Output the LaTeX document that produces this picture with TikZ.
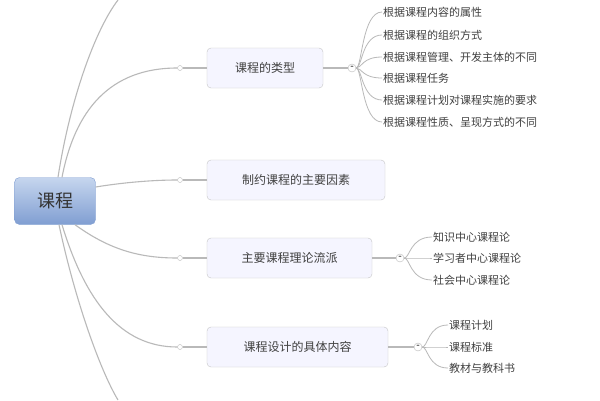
\documentclass[tikz,border=0pt]{standalone}
\usepackage{fontspec}
\setmainfont{Noto Sans CJK SC}
\definecolor{rootA}{RGB}{198,214,238}
\definecolor{rootB}{RGB}{128,158,210}
\begin{document}
\begin{tikzpicture}[x=1pt,y=-1pt,
  ln/.style={draw=gray!55,line width=1.1pt},
  br/.style={draw=gray!45,rounded corners=4pt,fill=blue!4,minimum height=40pt,font=\fontsize{12}{14}\selectfont,text=black!75,inner xsep=10pt},
  lf/.style={anchor=west,font=\fontsize{11}{13}\selectfont,text=black!75,inner sep=1pt},
  dot/.style={circle,draw=gray!55,fill=white,inner sep=0pt,minimum size=5pt},
  mn/.style={circle,draw=gray!55,fill=white,inner sep=0pt,minimum size=8pt,font=\tiny,label={[inner sep=0pt]center:-}}]
\useasboundingbox (0,0) rectangle (600,400);
\fill[white] (0,0) rectangle (600,400);
\coordinate (topend) at (118,0);
\coordinate (botend) at (118,400);
\node[draw=rootB,rounded corners=5pt,minimum width=81pt,minimum height=47pt,
  top color=rootA,bottom color=rootB,font=\fontsize{18}{20}\selectfont,text=black!80] (root) at (55,201) {课程};
\draw[ln] (root.north)++(3,0) .. controls (70,100) and (95,30) .. (topend);
\node[br,minimum width=116pt] (b1) at (265,68) {课程的类型};
\node[br,minimum width=178pt] (b2) at (296,180) {制约课程的主要因素};
\node[br,minimum width=165pt] (b3) at (289.5,258) {主要课程理论流派};
\node[br,minimum width=181pt] (b4) at (297.5,347) {课程设计的具体内容};
\node[dot] (d1) at (180,68) {};
\node[dot] (d2) at (180,180) {};
\node[dot] (d3) at (180,258) {};
\node[dot] (d4) at (180,347) {};
\draw[ln] (root.north)++(7,0) .. controls (75,110) and (110,68) .. (d1.west);
\draw[ln] (root.east)++(0,-14) .. controls (120,183) and (150,180) .. (d2.west);
\draw[ln] (root.south)++(20,0) .. controls (110,250) and (140,258) .. (d3.west);
\draw[ln] (root.south)++(7,0) .. controls (85,300) and (120,347) .. (d4.west);
\draw[ln] (root.south)++(4,0) .. controls (75,300) and (100,370) .. (botend);
\foreach \i in {1,2,3,4} \draw[ln] (d\i.east) -- (b\i.west);
\node[mn] (m1) at (352,68) {};
\node[mn] (m3) at (400,258) {};
\node[mn] (m4) at (418,347) {};
\draw[ln] (b1.east) -- (m1.west);
\draw[ln] (b3.east) -- (m3.west);
\draw[ln] (b4.east) -- (m4.west);
\foreach \t/\y [count=\k] in {根据课程内容的属性/12,根据课程的组织方式/35,根据课程管理、开发主体的不同/57,根据课程任务/78,根据课程计划对课程实施的要求/100,根据课程性质、呈现方式的不同/122}{
  \node[lf] (l1\k) at (382,\y) {\t};
  \draw[ln,line width=0.8pt] (m1.east) .. controls (362,68) and (362,\y) .. (l1\k.west);
}
\foreach \t/\y [count=\k] in {知识中心课程论/237,学习者中心课程论/258,社会中心课程论/280}{
  \node[lf] (l3\k) at (432,\y) {\t};
  \draw[ln,line width=0.8pt] (m3.east) .. controls (410,258) and (410,\y) .. (l3\k.west);
}
\foreach \t/\y [count=\k] in {课程计划/325,课程标准/347,教材与教科书/368}{
  \node[lf] (l4\k) at (448,\y) {\t};
  \draw[ln,line width=0.8pt] (m4.east) .. controls (428,347) and (428,\y) .. (l4\k.west);
}
\end{tikzpicture}
\end{document}
